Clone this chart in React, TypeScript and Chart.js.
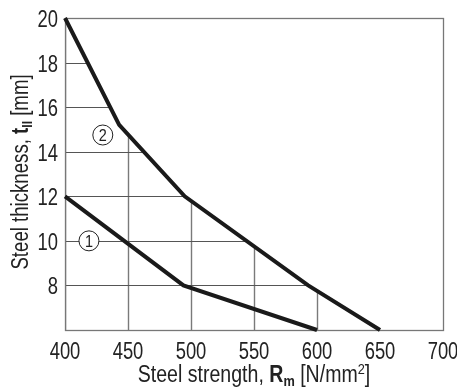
import React, { useEffect, useRef } from "react";
import { Chart, registerables } from "chart.js";

Chart.register(...registerables);

const xTicks = [400, 450, 500, 550, 600, 650, 700];
const yTicks = [8, 10, 12, 14, 16, 18, 20];
const curve1X = [400, 494, 600];
const curve1Y = [12, 8, 6];
const curve2X = [400, 443, 495, 593, 650];
const curve2Y = [20, 15.2, 12, 8, 6];
const labels = ["1", "2"];
const labelX = [419, 430];
const labelY = [10, 14.75];

const FONT = "'Liberation Sans', Arial, sans-serif";
const TEXT = "#222";

type Piece = { t: string; f: string; dy?: number };

function drawPieces(ctx: CanvasRenderingContext2D, pieces: Piece[]) {
  let total = 0;
  const widths = pieces.map((p) => {
    ctx.font = p.f + " " + FONT;
    const w = ctx.measureText(p.t).width;
    total += w;
    return w;
  });
  let x = -total / 2;
  ctx.textAlign = "left";
  ctx.textBaseline = "alphabetic";
  pieces.forEach((p, i) => {
    ctx.font = p.f + " " + FONT;
    ctx.fillText(p.t, x, p.dy || 0);
    x += widths[i];
  });
}

function condensedText(ctx: CanvasRenderingContext2D, t: string, x: number, y: number, align: CanvasTextAlign, sx: number) {
  ctx.save();
  ctx.translate(x, y);
  ctx.scale(sx, 1);
  ctx.textAlign = align;
  ctx.textBaseline = "alphabetic";
  ctx.fillText(t, 0, 0);
  ctx.restore();
}

const gridPlugin = {
  id: "clippedGrid",
  beforeDatasetsDraw(chart: any) {
    const { ctx, chartArea, scales } = chart;
    const { left, right, top, bottom } = chartArea;
    const xs = scales.x;
    const ys = scales.y;
    ctx.save();
    ctx.beginPath();
    ctx.moveTo(xs.getPixelForValue(curve2X[0]), bottom);
    curve2X.forEach((v, i) => ctx.lineTo(xs.getPixelForValue(v), ys.getPixelForValue(curve2Y[i])));
    ctx.lineTo(xs.getPixelForValue(curve2X[curve2X.length - 1]), bottom);
    ctx.closePath();
    ctx.clip();
    ctx.strokeStyle = "#7a7a7a";
    ctx.lineWidth = 1.4;
    xTicks.forEach((v) => {
      const px = Math.round(xs.getPixelForValue(v)) + 0.5;
      ctx.beginPath();
      ctx.moveTo(px, top);
      ctx.lineTo(px, bottom);
      ctx.stroke();
    });
    ctx.strokeStyle = "#555";
    ctx.lineWidth = 1.2;
    yTicks.forEach((v) => {
      const py = Math.round(ys.getPixelForValue(v)) + 0.5;
      ctx.beginPath();
      ctx.moveTo(left, py);
      ctx.lineTo(right, py);
      ctx.stroke();
    });
    ctx.restore();
    ctx.save();
    ctx.strokeStyle = "#777";
    ctx.lineWidth = 1.3;
    ctx.strokeRect(Math.round(left) + 0.5, Math.round(top) + 0.5, Math.round(right - left), Math.round(bottom - top));
    ctx.restore();
  },
  afterDatasetsDraw(chart: any) {
    const { ctx, chartArea, scales } = chart;
    const xs = scales.x;
    const ys = scales.y;
    ctx.save();
    // tick labels (condensed)
    ctx.fillStyle = TEXT;
    ctx.font = "23px " + FONT;
    xTicks.forEach((v) => {
      condensedText(ctx, String(v), xs.getPixelForValue(v), 358.5, "center", 0.8);
    });
    yTicks.forEach((v) => {
      condensedText(ctx, String(v), chartArea.left - 7, ys.getPixelForValue(v) + 9, "right", 0.8);
    });
    // circled labels
    labels.forEach((l, i) => {
      const px = xs.getPixelForValue(labelX[i]);
      const py = ys.getPixelForValue(labelY[i]);
      ctx.beginPath();
      ctx.arc(px, py, 10, 0, Math.PI * 2);
      ctx.fillStyle = "#fff";
      ctx.fill();
      ctx.strokeStyle = "#222";
      ctx.lineWidth = 1;
      ctx.stroke();
      ctx.fillStyle = TEXT;
      ctx.font = "17px " + FONT;
      ctx.save();
      ctx.translate(px, py + 6);
      ctx.scale(0.85, 1);
      ctx.textAlign = "center";
      ctx.textBaseline = "alphabetic";
      ctx.fillText(l, 0, 0);
      ctx.restore();
    });
    ctx.fillStyle = TEXT;
    const cx = (chartArea.left + chartArea.right) / 2;
    ctx.save();
    ctx.translate(cx, 382);
    ctx.scale(0.85, 1);
    drawPieces(ctx, [
      { t: "Steel strength, ", f: "23px" },
      { t: "R", f: "bold 23px" },
      { t: "m", f: "bold 15px", dy: 4 },
      { t: " [N/mm", f: "23px" },
      { t: "2", f: "15px", dy: -8 },
      { t: "]", f: "23px" },
    ]);
    ctx.restore();
    ctx.save();
    ctx.translate(28, 172);
    ctx.rotate(-Math.PI / 2);
    ctx.scale(0.81, 1);
    drawPieces(ctx, [
      { t: "Steel thickness, ", f: "23px" },
      { t: "t", f: "bold 23px" },
      { t: "II", f: "bold 15px", dy: 4 },
      { t: " [mm]", f: "23px" },
    ]);
    ctx.restore();
    ctx.restore();
  },
};

export default function App() {
  const ref = useRef<HTMLCanvasElement>(null);
  useEffect(() => {
    document.body.style.margin = "0";
    if (!ref.current) return;
    const chart = new Chart(ref.current, {
      type: "scatter",
      data: {
        datasets: [
          {
            label: "1",
            data: curve1X.map((x, i) => ({ x, y: curve1Y[i] })),
            showLine: true,
            borderColor: "#1a1a1a",
            borderWidth: 4,
            pointRadius: 0,
            clip: false as any,
          },
          {
            label: "2",
            data: curve2X.map((x, i) => ({ x, y: curve2Y[i] })),
            showLine: true,
            borderColor: "#1a1a1a",
            borderWidth: 4,
            pointRadius: 0,
            clip: false as any,
          },
        ],
      },
      options: {
        animation: false,
        responsive: false,
        layout: { padding: { top: 18, right: 14, left: 0, bottom: 0 } },
        plugins: { legend: { display: false }, tooltip: { enabled: false } },
        scales: {
          x: {
            type: "linear",
            min: 400,
            max: 700,
            afterBuildTicks: (s: any) => {
              s.ticks = xTicks.map((v) => ({ value: v }));
            },
            afterFit: (s: any) => {
              s.height = 59;
            },
            ticks: { display: false },
            grid: { display: false, drawTicks: false },
            border: { display: false },
          },
          y: {
            type: "linear",
            min: 6,
            max: 20,
            afterBuildTicks: (s: any) => {
              s.ticks = yTicks.map((v) => ({ value: v }));
            },
            afterFit: (s: any) => {
              s.width = 65;
            },
            ticks: { display: false },
            grid: { display: false, drawTicks: false },
            border: { display: false },
          },
        },
      },
      plugins: [gridPlugin],
    });
    return () => chart.destroy();
  }, []);
  return (
    <div style={{ width: 457, height: 389 }}>
      <canvas ref={ref} width={457} height={389} style={{ display: "block" }} />
    </div>
  );
}
